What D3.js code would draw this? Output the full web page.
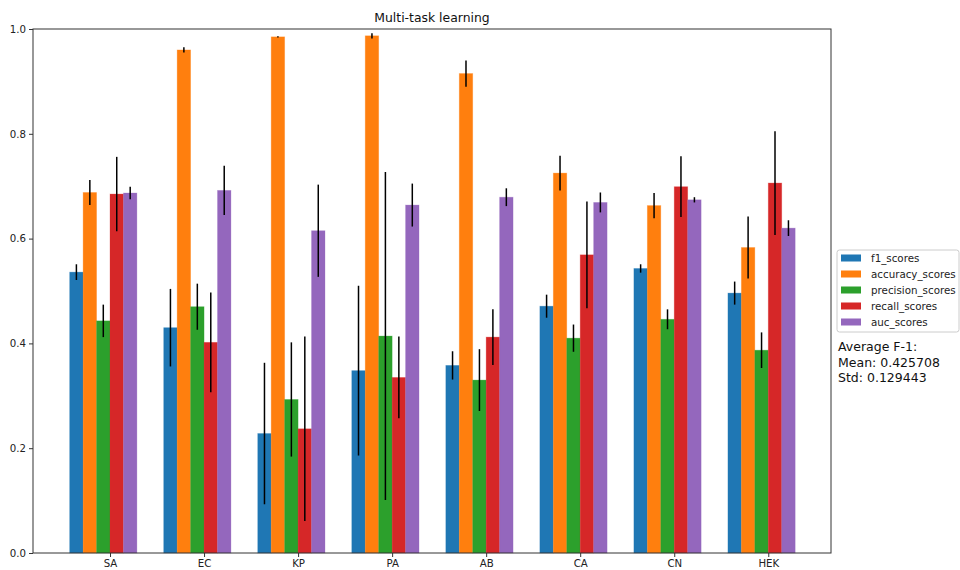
<!DOCTYPE html>
<html>
<head>
<meta charset="utf-8">
<script src="https://cdn.jsdelivr.net/npm/d3@7"></script>
<style>
  html, body { margin: 0; padding: 0; background: #fff; }
  svg { display: block; font-family: "DejaVu Sans", sans-serif; }
</style>
</head>
<body>
<svg id="chart" width="960" height="570"></svg>
<script>
const categories = ["SA", "EC", "KP", "PA", "AB", "CA", "CN", "HEK"];
const seriesNames = ["f1_scores", "accuracy_scores", "precision_scores", "recall_scores", "auc_scores"];
const f1Scores        = [0.536, 0.430, 0.228, 0.348, 0.358, 0.471, 0.543, 0.496];
const f1Err           = [0.015, 0.074, 0.135, 0.162, 0.027, 0.022, 0.008, 0.022];
const accuracyScores  = [0.688, 0.960, 0.985, 0.987, 0.915, 0.725, 0.663, 0.583];
const accuracyErr     = [0.024, 0.005, 0.001, 0.005, 0.025, 0.033, 0.024, 0.059];
const precisionScores = [0.443, 0.470, 0.293, 0.414, 0.330, 0.410, 0.446, 0.387];
const precisionErr    = [0.031, 0.044, 0.109, 0.313, 0.059, 0.026, 0.019, 0.034];
const recallScores    = [0.685, 0.402, 0.237, 0.335, 0.412, 0.569, 0.699, 0.706];
const recallErr       = [0.071, 0.095, 0.176, 0.078, 0.053, 0.102, 0.058, 0.099];
const aucScores       = [0.687, 0.692, 0.615, 0.664, 0.679, 0.669, 0.674, 0.620];
const aucErr          = [0.012, 0.047, 0.088, 0.041, 0.017, 0.019, 0.005, 0.015];
const yTicks = [0.0, 0.2, 0.4, 0.6, 0.8, 1.0];
const titleText = "Multi-task learning";
const statsLines = ["Average F-1:", "Mean: 0.425708", "Std: 0.129443"];

(function () {
const colors = ["#1f77b4", "#ff7f0e", "#2ca02c", "#d62728", "#9467bd"];
const seriesValues = [f1Scores, accuracyScores, precisionScores, recallScores, aucScores];
const seriesErrors = [f1Err, accuracyErr, precisionErr, recallErr, aucErr];

const svg = d3.select("#chart");
const pLeft = 33, pRight = 831, pTop = 29, pBottom = 553;
const barW = 0.143;

const x = d3.scaleLinear().domain([-0.819, 7.667]).range([pLeft, pRight]);
const y = d3.scaleLinear().domain([0, 1]).range([pBottom, pTop]);

const records = [];
seriesNames.forEach((name, si) => {
  categories.forEach((c, ci) => {
    records.push({si, ci, v: seriesValues[si][ci], e: seriesErrors[si][ci]});
  });
});

const g = svg.append("g");
g.selectAll("rect.bar").data(records).enter().append("rect")
  .attr("class", "bar")
  .attr("x", d => x(d.ci + (d.si - 3) * barW))
  .attr("width", d => x(barW) - x(0))
  .attr("y", d => y(d.v))
  .attr("height", d => y(0) - y(d.v))
  .attr("fill", d => colors[d.si])
  .attr("stroke", d => colors[d.si])
  .attr("stroke-opacity", 0.35)
  .attr("stroke-width", 0.8);

g.selectAll("line.err").data(records).enter().append("line")
  .attr("class", "err")
  .attr("x1", d => x(d.ci + (d.si - 2.5) * barW))
  .attr("x2", d => x(d.ci + (d.si - 2.5) * barW))
  .attr("y1", d => y(d.v - d.e))
  .attr("y2", d => y(d.v + d.e))
  .attr("stroke", "#000")
  .attr("stroke-width", 1.5);

const yAxis = d3.axisLeft(y).tickValues(yTicks).tickFormat(d3.format(".1f")).tickSize(4).tickPadding(3);
const ya = svg.append("g").attr("transform", `translate(${pLeft},0)`).call(yAxis);
const xAxis = d3.axisBottom(x).tickValues(d3.range(categories.length)).tickFormat(i => categories[i]).tickSize(4).tickPadding(3);
const xa = svg.append("g").attr("transform", `translate(0,${pBottom})`).call(xAxis);
[ya, xa].forEach(a => {
  a.select(".domain").remove();
  a.selectAll("text").attr("font-size", 10.2).attr("fill", "#222").attr("font-family", "DejaVu Sans");
  a.selectAll("line").attr("stroke", "#333");
});

svg.append("rect").attr("x", pLeft).attr("y", pTop).attr("width", pRight - pLeft).attr("height", pBottom - pTop)
  .attr("fill", "none").attr("stroke", "#333").attr("stroke-width", 1);

svg.append("text").attr("x", (pLeft + pRight) / 2).attr("y", 22).attr("text-anchor", "middle")
  .attr("font-size", 12.4).attr("fill", "#111").text(titleText);

const lg = svg.append("g");
lg.append("rect").attr("x", 837).attr("y", 250).attr("width", 122).attr("height", 82)
  .attr("rx", 2.5).attr("fill", "#fff").attr("stroke", "#ccc").attr("stroke-width", 1);
seriesNames.forEach((n, i) => {
  const cy = 258 + i * 16;
  lg.append("rect").attr("x", 841).attr("y", cy - 3.5).attr("width", 20).attr("height", 7).attr("fill", colors[i]);
  lg.append("text").attr("x", 871).attr("y", cy + 3.6).attr("font-size", 10.3).attr("fill", "#222").text(n);
});

statsLines.forEach((t, i) => {
  svg.append("text").attr("x", 838).attr("y", 351 + i * 15.5).attr("font-size", 12.5).attr("fill", "#111").text(t);
});
})();
</script>
</body>
</html>
